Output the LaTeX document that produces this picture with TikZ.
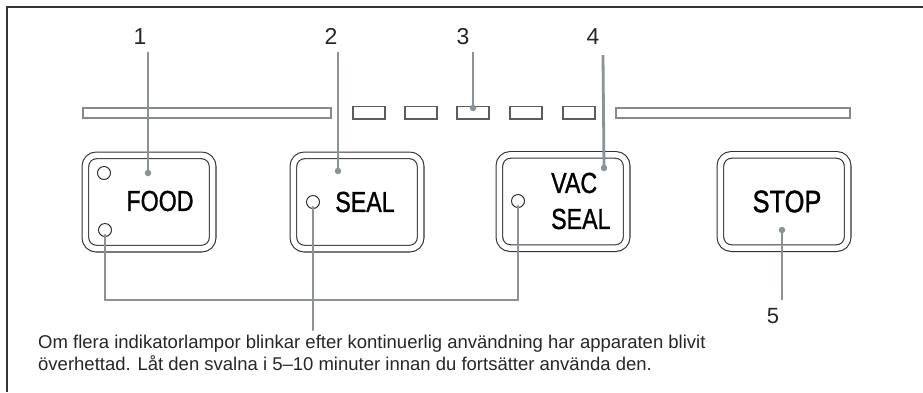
\documentclass[tikz,border=0pt]{standalone}
\usepackage{fontspec}
\setmainfont{Liberation Sans}
\newfontfamily\btnfont{Liberation Sans}[FakeBold=1.2]
\definecolor{leadgray}{HTML}{8B9299}
\definecolor{framegray}{HTML}{333333}
\definecolor{bargray}{HTML}{858A8F}
\begin{document}
\begin{tikzpicture}[x=1pt,y=-1pt,
  frameline/.style={draw=framegray, line width=1.3pt},
  longbar/.style={draw=bargray, line width=1.7pt},
  slot/.style={draw=framegray!80, line width=1.2pt},
  btn/.style={draw=framegray, line width=1.1pt, double=white, double distance=5.5pt,
    rounded corners=11pt, minimum width=127.3pt, minimum height=93.3pt, inner sep=0pt},
  led/.style={circle, draw=framegray, line width=1pt, minimum size=13pt, inner sep=0pt, fill=white},
  leader/.style={draw=leadgray, line width=2.8pt},
  dotmark/.style={circle, fill=leadgray, inner sep=0pt, minimum size=6.5pt},
  num/.style={font=\fontsize{23}{23}\selectfont, inner sep=0pt, text=black!85},
  lbl/.style={font=\btnfont\fontsize{29}{29}\selectfont, inner sep=0pt},
  note/.style={font=\fontsize{18.5}{22}\selectfont, inner sep=0pt, anchor=base west, text=black!85}
]
\useasboundingbox (0,0) rectangle (923,392);
% frame
\draw[frameline] (7,392) -- (7,7) -- (923,7);
% bars
\draw[longbar] (83,108) rectangle (331,118);
\draw[longbar] (616,108) rectangle (850,118);
\foreach \i/\xx in {1/353,2/405,3/457,4/510,5/563}
  \draw[slot] (\xx,106.5) rectangle ++(32,12.5);
% buttons
\node[btn] (food) at (149,202) {};
\node[btn] (sealb) at (357,202) {};
\node[btn] (vacb) at (563,201.5) {};
\node[btn] (stopb) at (784,201.5) {};
% labels on buttons
\node[lbl] (tfood) at (160,201) {\scalebox{0.8}[1]{FOOD}};
\node[lbl] (tseal) at (365,202) {\scalebox{0.8}[1]{SEAL}};
\node[lbl, anchor=west] (tvac) at (551,183) {\scalebox{0.8}[1]{VAC}};
\node[lbl, anchor=west] (tvseal) at (551,219) {\scalebox{0.8}[1]{SEAL}};
\node[lbl, font=\btnfont\fontsize{31}{31}\selectfont] (tstop) at (787,201.5) {\scalebox{0.82}[1]{STOP}};
% LEDs
\node[led] (led1) at (104,173) {};
\node[led] (led2) at (105,230) {};
\node[led] (led3) at (313,202) {};
\node[led] (led4) at (518,201) {};
% numbers
\node[num] (n1) at (140,36.5) {1};
\node[num] (n2) at (331,36.5) {2};
\node[num] (n3) at (463,36.5) {3};
\node[num] (n4) at (593,36.5) {4};
\node[num, font=\fontsize{22}{22}\selectfont] (n5) at (773,316.5) {5};
% leader end points
\coordinate (t1) at (148,52);
\coordinate (t2) at (338,52);
\coordinate (t3) at (473,52);
\coordinate (t4) at (603,55);
\coordinate (b5) at (782,300);
\node[dotmark] (d1) at (148,173) {};
\node[dotmark] (d2) at (338,171) {};
\node[dotmark] (d3) at (473,108) {};
\node[dotmark] (d4) at (604,168) {};
\node[dotmark] (d5) at (782,230) {};
\draw[leader] (t1) -- (d1.center);
\draw[leader] (t2) -- (d2.center);
\draw[leader] (t3) -- (d3.center);
\draw[leader] (t4) -- (d4.center);
\draw[leader] (d5.center) -- (b5);
% bracket from LEDs
\coordinate (brk) at (0,302);
\coordinate (stemend) at (313,330);
\draw[leader, line cap=round] ([yshift=2pt]led2.south) -- ([yshift=2pt]led2.south |- brk) -| ([yshift=2pt]led4.south);
\draw[leader, line width=2.4pt, line cap=round] ([yshift=2pt]led3.south) -- (stemend);
% note
\node[note] (note1) at (38,348) {Om flera indikatorlampor blinkar efter kontinuerlig användning har apparaten blivit};
\node[note] (note2) at (38,370) {överhettad. Låt den svalna i 5–10 minuter innan du fortsätter använda den.};
\end{tikzpicture}
\end{document}
